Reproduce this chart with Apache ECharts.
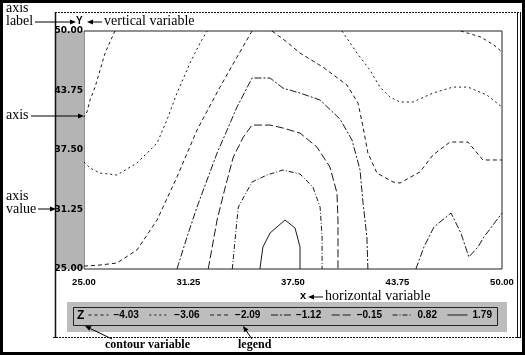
<!DOCTYPE html>
<html><head><meta charset="utf-8">
<script src="https://cdn.jsdelivr.net/npm/echarts@6/dist/echarts.min.js"></script>
<style>html,body{margin:0;padding:0;background:#fff}#c{width:525px;height:355px}</style>
</head><body><div id="c"></div>
<script>
// ---- data ----
const levels = ['−4.03', '−3.06', '−2.09', '−1.12', '−0.15', '0.82', '1.79'];
const axisMin = 25, axisMax = 50, axisStep = 6.25;

const c1 = [[26.85,50],[26.26,47.68],[25.96,45.9],[25.66,44.1],[25.36,42.75],[25.18,41.5],[25,40.96]];
const c2 = [[25,36.24],[25.36,35.6],[25.96,35.08],[26.97,34.87],[28.17,36.13],[28.77,37.18],[29.37,38.23],[29.96,40.65],[30.56,43.48],[31.34,46.63],[31.94,48.73],[32.36,50]];
const c3 = [[25,25.3],[25.96,25.42],[26.97,25.63],[28.17,27.0],[29.37,30.15],[30.56,34.66],[31.76,39.6],[33.13,44.1],[34.15,47.26],[35.05,50]];
const c4 = [[36.24,50],[37.14,48.84],[37.92,47.68],[39.29,46.21],[40.73,44.32],[41.39,42.43],[41.69,39.91],[41.98,37.18],[42.52,35.08],[43.48,34.14],[43.9,34.03],[45.09,35.19],[45.87,36.97],[46.89,38.34],[47.96,38.34],[48.86,36.45],[50,36.45]];
const c5 = [[40.43,50],[41.33,47.68],[42.1,45.9],[42.7,44.11],[43.3,43.06],[43.9,42.54],[44.67,42.54],[45.87,43.48],[47.07,44.11],[47.96,44.11],[49.1,43.27],[50,42.01]];
const c6 = [[47.54,50],[48.74,49.36],[49.52,48.52],[50,47.79]];
const c7 = [[30.56,25],[31.16,28.36],[31.76,31.51],[32.36,34.35],[32.96,37.18],[33.56,39.6],[34.15,42.01],[35.05,45.06],[36.13,45.06],[36.9,44.0],[37.92,43.48],[39.12,42.75],[40.31,40.75],[41.03,38.55],[41.51,35.4],[41.69,31.93],[41.92,28.36],[41.98,25]];
const c8 = [[32.43,25],[32.96,30.15],[33.45,33.61],[33.93,36.76],[34.53,38.86],[35.05,40.12],[36.13,40.12],[36.9,39.81],[37.92,39.28],[38.93,37.81],[39.71,35.71],[40.13,32.98],[40.19,30.15],[40.19,25]];
const c9 = [[33.87,25],[34.05,28.36],[34.23,31.51],[35.05,34.14],[35.94,34.87],[36.9,35.4],[37.92,34.98],[38.69,33.61],[39.12,31.51],[39.24,28.36],[39.24,25]];
const c10 = [[35.52,25],[35.7,27.31],[36.13,28.78],[37.02,30.15],[37.62,29.31],[37.92,27.31],[37.92,25]];
const c11 = [[44.85,25],[45.33,27.31],[45.93,29.41],[46.95,30.88],[47.54,28.78],[48.02,26.26],[48.56,27.31],[48.92,28.36],[50,30.88]];

const segments = [c1, c2, c3, c4, c5, c6, c7, c8, c9, c10, c11];
const segmentLevel = [0, 1, 2, 2, 1, 0, 3, 4, 5, 6, 3];

// ---- styles ----
const dashByLevel = [[3,3], [2,3], [4,3], [7,2,2,2], [8,3], [5,2,1,2], 'solid'];
const serif = '"Liberation Serif", "DejaVu Serif", serif';
const sans = '"Liberation Sans", Arial, sans-serif';
const ink = '#1a1a1a';

const chart = echarts.init(document.getElementById('c'), null, {renderer: 'canvas'});

function arrow(x1, y1, x2, y2) {
  const a = Math.atan2(y2 - y1, x2 - x1), L = 6, W = 2.5;
  const bx = x2 - L * Math.cos(a), by = y2 - L * Math.sin(a);
  return [
    {type: 'line', z: 5, shape: {x1, y1, x2: bx, y2: by}, style: {stroke: '#000', lineWidth: 1}},
    {type: 'polygon', z: 5, shape: {points: [[x2, y2], [bx + W * Math.sin(a), by - W * Math.cos(a)], [bx - W * Math.sin(a), by + W * Math.cos(a)]]}, style: {fill: '#000'}}
  ];
}
function txt(s, x, y, font, align) {
  return {type: 'text', z: 5, x, y, style: {text: s, font, fill: '#000', align: align || 'left', verticalAlign: 'middle'}};
}
function ln(x1, y1, x2, y2, w, dash) {
  return {type: 'line', z: 5, shape: {x1, y1, x2, y2}, style: {stroke: '#111', lineWidth: w || 1, lineDash: dash || null}};
}

const graphics = [
  {type: 'rect', z: 5, shape: {x: 1.5, y: 1.5, width: 522, height: 352}, style: {fill: 'none', stroke: '#000', lineWidth: 3}},
  ln(55.5, 12, 55.5, 338, 1.5),
  ln(55, 12.5, 520, 12.5, 1, [2, 1]),
  ln(517.5, 12, 517.5, 338, 1),
  ln(520.5, 12, 520.5, 338, 1),
  ln(53, 337.5, 520, 337.5, 1, [2, 1]),
  {type: 'rect', z: 0, shape: {x: 56, y: 31, width: 28, height: 238}, style: {fill: '#b4b4b4'}},
  {type: 'rect', z: 1, shape: {x: 67, y: 302, width: 440, height: 30}, style: {fill: '#bdbdbd'}},
  {type: 'rect', z: 2, shape: {x: 73.5, y: 307.5, width: 424, height: 18}, style: {fill: 'none', stroke: '#222', lineWidth: 1}},
  txt('Z', 77, 316, 'bold 12px ' + sans),
  txt('axis', 6, 8, '14px ' + serif),
  txt('label', 6, 21, '14px ' + serif),
  ...arrow(35, 22, 76, 22),
  txt('Y', 76, 21, 'bold 10px ' + sans),
  ...arrow(102, 22, 87, 22),
  txt('vertical variable', 104, 21, '14px ' + serif),
  txt('axis', 6, 115, '14px ' + serif),
  ...arrow(31, 116, 84, 116),
  txt('axis', 6, 196, '14px ' + serif),
  txt('value', 6, 209, '14px ' + serif),
  ...arrow(38, 209, 56, 209),
  txt('x', 300, 296, 'bold 11px ' + sans),
  ...arrow(323, 297, 308, 297),
  txt('horizontal variable', 325, 296, '14px ' + serif),
  txt('contour variable', 105, 345, 'bold 12px ' + serif),
  ...arrow(112, 339, 85, 326),
  txt('legend', 238, 345, 'bold 12px ' + serif),
  ...arrow(252, 339, 243, 326)
];

const series = segments.map((d, i) => {
  const lv = segmentLevel[i];
  return {
    type: 'line', name: levels[lv], data: d, symbol: 'none', silent: true, z: 3,
    color: ink, itemStyle: {color: ink},
    lineStyle: {color: ink, width: 1, type: dashByLevel[lv]}
  };
});

chart.setOption({
  animation: false,
  backgroundColor: '#fff',
  color: [ink],
  grid: {left: 84, top: 31, width: 418, height: 238, show: true, borderColor: '#222', borderWidth: 1, backgroundColor: 'transparent'},
  xAxis: {
    type: 'value', min: axisMin, max: axisMax, interval: axisStep,
    axisLine: {show: false}, axisTick: {show: false}, splitLine: {show: false},
    axisLabel: {margin: 8, fontFamily: sans, fontWeight: 'bold', fontSize: 9.5, color: '#000', formatter: v => v.toFixed(2)}
  },
  yAxis: {
    type: 'value', min: axisMin, max: axisMax, interval: axisStep, z: 6,
    axisLine: {show: false}, axisTick: {show: false}, splitLine: {show: false},
    axisLabel: {margin: 1, fontFamily: '"DejaVu Sans", sans-serif', fontWeight: 'bold', fontSize: 9, color: '#000', formatter: v => v.toFixed(2)}
  },
  legend: {
    data: levels, left: 88, top: 310, padding: 0, itemWidth: 20, itemHeight: 8, itemGap: 10,
    selectedMode: false, z: 6,
    itemStyle: {opacity: 0, borderWidth: 0},
    lineStyle: {color: ink, width: 1},
    textStyle: {fontFamily: sans, fontWeight: 'bold', fontSize: 10, color: '#000', width: 25, overflow: 'none'}
  },
  graphic: graphics,
  series
});
</script>
</body></html>
